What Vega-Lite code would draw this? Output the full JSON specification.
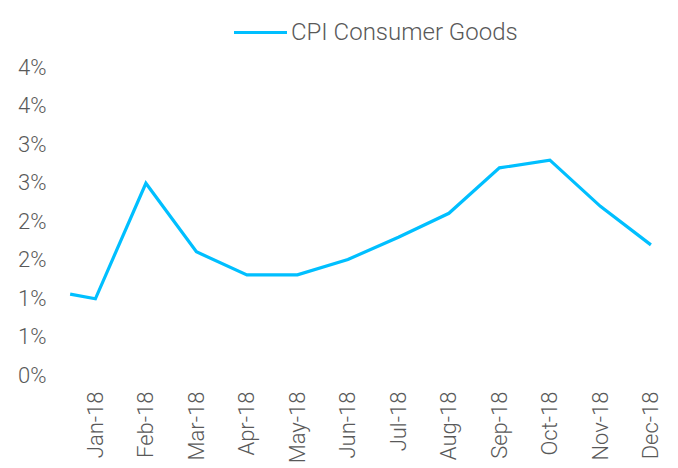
{
  "$schema": "https://vega.github.io/schema/vega-lite/v6.json",
  "width": 606,
  "height": 308,
  "padding": {"top": 4, "left": 17, "right": 5, "bottom": 5},
  "background": "white",
  "config": {
    "view": {"stroke": null},
    "font": "Roboto"
  },
  "data": {
    "values": [
      {"m": -0.5, "series": "CPI Consumer Goods", "v": 1.05},
      {"m": 0, "series": "CPI Consumer Goods", "v": 0.99},
      {"m": 1, "series": "CPI Consumer Goods", "v": 2.49},
      {"m": 2, "series": "CPI Consumer Goods", "v": 1.6},
      {"m": 3, "series": "CPI Consumer Goods", "v": 1.3},
      {"m": 4, "series": "CPI Consumer Goods", "v": 1.3},
      {"m": 5, "series": "CPI Consumer Goods", "v": 1.5},
      {"m": 6, "series": "CPI Consumer Goods", "v": 1.79},
      {"m": 7, "series": "CPI Consumer Goods", "v": 2.1},
      {"m": 8, "series": "CPI Consumer Goods", "v": 2.69},
      {"m": 9, "series": "CPI Consumer Goods", "v": 2.79},
      {"m": 10, "series": "CPI Consumer Goods", "v": 2.19},
      {"m": 11, "series": "CPI Consumer Goods", "v": 1.69}
    ]
  },
  "mark": {"type": "line", "strokeWidth": 3.2, "strokeJoin": "miter"},
  "encoding": {
    "x": {
      "field": "m",
      "type": "quantitative",
      "scale": {"domain": [-0.8, 11.2], "nice": false, "zero": false},
      "axis": {
        "title": null,
        "grid": false,
        "domain": false,
        "ticks": false,
        "values": [0, 1, 2, 3, 4, 5, 6, 7, 8, 9, 10, 11],
        "labelExpr": "['Jan-18','Feb-18','Mar-18','Apr-18','May-18','Jun-18','Jul-18','Aug-18','Sep-18','Oct-18','Nov-18','Dec-18'][datum.value]",
        "labelAngle": -90,
        "labelAlign": "right",
        "labelBaseline": "middle",
        "labelPadding": 16,
        "labelFontSize": 22,
        "labelFontWeight": 300,
        "labelColor": "#595959",
        "labelFont": "Roboto"
      }
    },
    "y": {
      "field": "v",
      "type": "quantitative",
      "scale": {"domain": [0, 4], "nice": false},
      "axis": {
        "title": null,
        "grid": false,
        "domain": false,
        "ticks": false,
        "values": [0, 0.5, 1, 1.5, 2, 2.5, 3, 3.5, 4],
        "labelExpr": "round(datum.value) + '%'",
        "labelPadding": 9,
        "labelFontSize": 22,
        "labelFontWeight": 300,
        "labelColor": "#595959",
        "labelFont": "Roboto"
      }
    },
    "color": {
      "field": "series",
      "type": "nominal",
      "scale": {"range": ["#00BFFF"]},
      "legend": {
        "title": null,
        "orient": "none",
        "legendX": 177,
        "legendY": -63,
        "symbolType": "stroke",
        "symbolSize": 2809,
        "symbolStrokeWidth": 3.2,
        "labelFontSize": 24,
        "labelFontWeight": 300,
        "labelColor": "#595959",
        "labelFont": "Roboto",
        "labelOffset": 2,
        "labelLimit": 0
      }
    }
  }
}
